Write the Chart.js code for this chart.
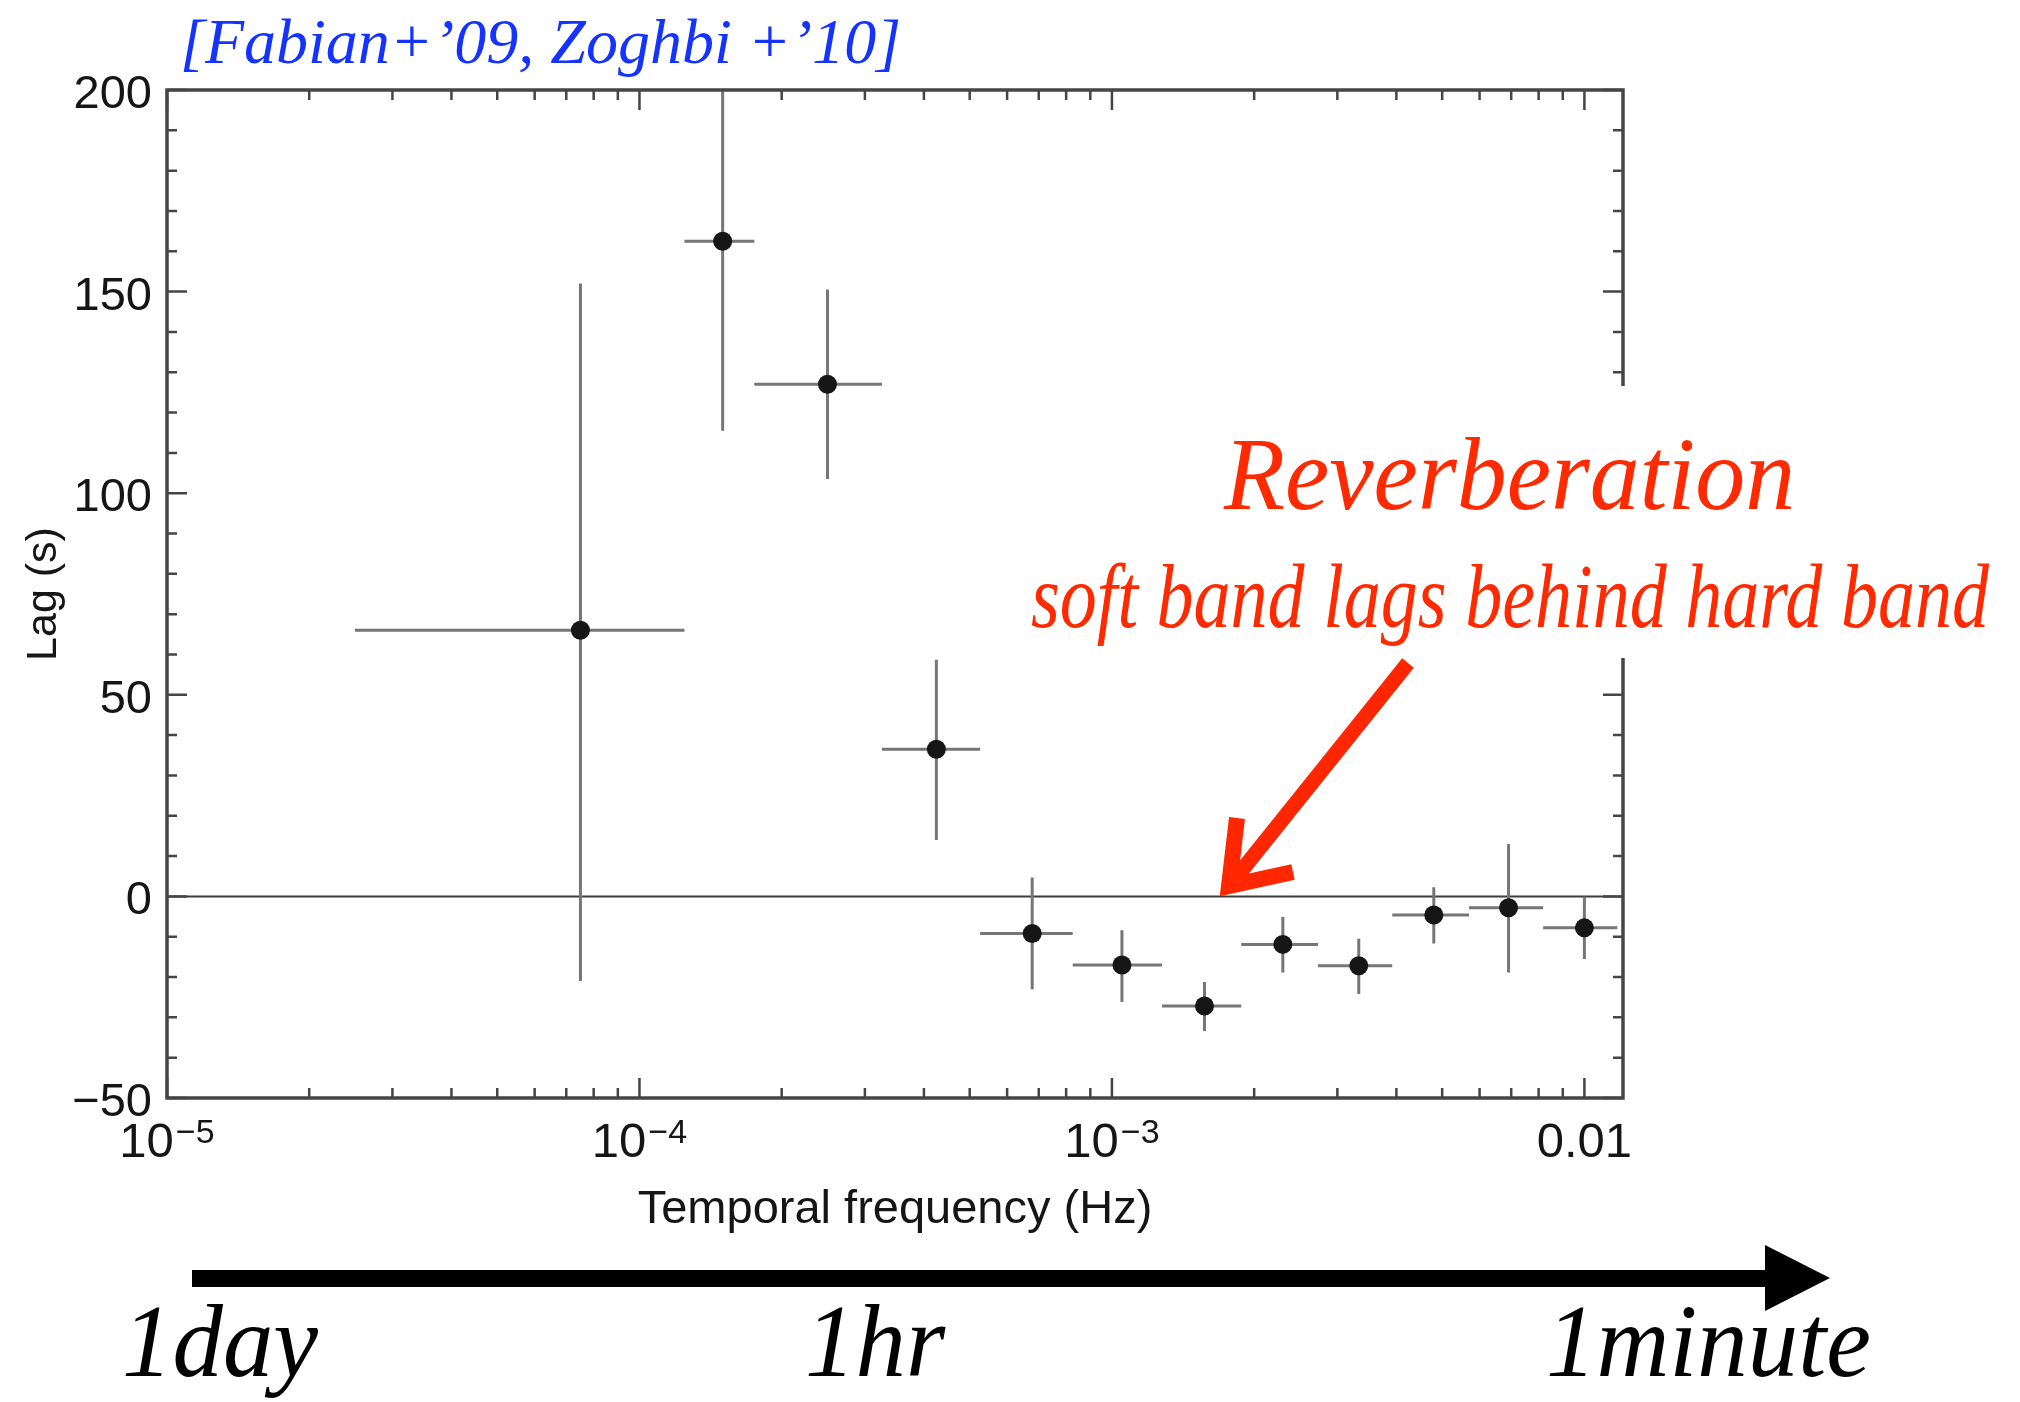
<!DOCTYPE html>
<html>
<head>
<meta charset="utf-8">
<title>Lag vs temporal frequency</title>
<script src="https://cdn.jsdelivr.net/npm/chart.js@4.4.1/dist/chart.umd.min.js"></script>
<style>
  body { margin: 0; background: #fff; }
  #wrap { position: relative; width: 2020px; height: 1402px; overflow: hidden; }
  #lagChart { position: absolute; left: 0; top: 0; }
  .note { position: absolute; font-family: "Liberation Serif", "DejaVu Serif", serif; font-style: italic; white-space: nowrap; line-height: 1; transform-origin: 0 0; }
  #cite { left: 180px; top: 10px; font-size: 64px; color: #1433ff; }
  #mask { position: absolute; left: 1020px; top: 386px; width: 1000px; height: 272px; background: #fff; }
  #reverb { left: 1224px; top: 422px; font-size: 104px; color: #ff2a00; transform: scaleX(0.96); }
  #soft { left: 1031px; top: 550px; font-size: 92px; color: #ff2a00; transform: scaleX(0.805); }
  .time { top: 1289px; font-size: 104px; color: #000; transform: scaleX(0.97); }
</style>
</head>
<body>
<div id="wrap">
  <canvas id="lagChart" width="2020" height="1402"></canvas>
  <div class="note" id="cite">[Fabian+’09, Zoghbi +’10]</div>
  <div id="mask"></div>
  <div class="note" id="reverb">Reverberation</div>
  <div class="note" id="soft">soft band lags behind hard band</div>
  <div class="note time" style="left:122px">1day</div>
  <div class="note time" style="left:805px">1hr</div>
  <div class="note time" style="left:1546px">1minute</div>
</div>
<script>
// data
const freq   = [7.5e-5, 1.50e-4, 2.50e-4, 4.25e-4, 6.78e-4, 1.05e-3, 1.57e-3, 2.30e-3, 3.33e-3, 4.80e-3, 6.91e-3, 1.0e-2];
const freqLo = [2.5e-5, 1.245e-4, 1.75e-4, 3.26e-4, 5.26e-4, 8.26e-4, 1.277e-3, 1.878e-3, 2.73e-3, 3.92e-3, 5.70e-3, 8.18e-3];
const freqHi = [1.245e-4, 1.75e-4, 3.26e-4, 5.26e-4, 8.26e-4, 1.277e-3, 1.878e-3, 2.73e-3, 3.92e-3, 5.70e-3, 8.18e-3, 1.174e-2];
const lag    = [66, 162.5, 127, 36.5, -9.2, -17, -27.2, -11.9, -17.2, -4.6, -2.8, -7.8];
const lagLo  = [-21, 115.5, 103.5, 14, -23, -26.2, -33.4, -18.9, -24.2, -11.7, -18.9, -15.5];
const lagHi  = [152, 210, 150.5, 58.7, 4.7, -8.4, -21.2, -5.1, -10.5, 2.3, 13, -0.1];

const xTicks = [1e-5, 1e-4, 1e-3, 1e-2];
const xTickText = [['10', '\u22125'], ['10', '\u22124'], ['10', '\u22123'], ['0.01', '']];
const yTicks = [-50, 0, 50, 100, 150, 200];
const yTickText = ['\u221250', '0', '50', '100', '150', '200'];

Chart.defaults.font.family = '"Liberation Sans", Arial, sans-serif';
Chart.defaults.color = '#151515';

//error bars + zero line
const errorBars = {
    id: 'errorBars',
    beforeDatasetsDraw(chart) {
        const {ctx, chartArea: a, scales: {x, y}} = chart;
        ctx.save();
        ctx.beginPath();
        ctx.rect(a.left, a.top, a.width, a.height);
        ctx.clip();
        const y0 = y.getPixelForValue(0);
        ctx.strokeStyle = '#3c3c3c';
        ctx.lineWidth = 2;
        ctx.beginPath();
        ctx.moveTo(a.left, y0);
        ctx.lineTo(a.right, y0);
        ctx.stroke();
        ctx.strokeStyle = '#767676';
        ctx.lineWidth = 3;
        freq.forEach((f, i) => {
            const px = x.getPixelForValue(f);
            const py = y.getPixelForValue(lag[i]);
            ctx.beginPath();
            ctx.moveTo(x.getPixelForValue(freqLo[i]), py);
            ctx.lineTo(x.getPixelForValue(freqHi[i]), py);
            ctx.moveTo(px, y.getPixelForValue(lagHi[i]));
            ctx.lineTo(px, y.getPixelForValue(lagLo[i]));
            ctx.stroke();
        });
        ctx.restore();
    }
};

//box with inward ticks on all four sides
const frame = {
    id: 'frame',
    afterDatasetsDraw(chart) {
        const {ctx, chartArea: a, scales: {x, y}} = chart;
        ctx.save();
        ctx.strokeStyle = '#454545';
        ctx.lineWidth = 2.5;
        ctx.beginPath();
        for (let e = -5; e <= -2; e++) {
            for (let k = 1; k < 10; k++) {
                const v = k * Math.pow(10, e);
                if (v > x.max) break;
                const px = x.getPixelForValue(v);
                const len = k === 1 ? 20 : 10;
                ctx.moveTo(px, a.bottom); ctx.lineTo(px, a.bottom - len);
                ctx.moveTo(px, a.top); ctx.lineTo(px, a.top + len);
            }
        }
        for (let v = y.min; v <= y.max; v += 10) {
            const py = y.getPixelForValue(v);
            const len = v % 50 === 0 ? 20 : 10;
            ctx.moveTo(a.left, py); ctx.lineTo(a.left + len, py);
            ctx.moveTo(a.right, py); ctx.lineTo(a.right - len, py);
        }
        ctx.stroke();
        ctx.lineWidth = 3.5;
        ctx.strokeRect(a.left, a.top, a.width, a.height);
        ctx.restore();
    }
};

//x tick labels with superscripts, and the two arrows
const extras = {
    id: 'extras',
    afterDraw(chart) {
        const {ctx, scales: {x}} = chart;
        ctx.save();
        ctx.fillStyle = '#151515';
        ctx.textBaseline = 'alphabetic';
        ctx.textAlign = 'left';
        x.ticks.forEach((t, i) => {
            const px = x.getPixelForValue(t.value);
            const [base, sup] = xTickText[i];
            ctx.font = '49px "Liberation Sans", Arial, sans-serif';
            const wb = ctx.measureText(base).width;
            ctx.font = '34px "Liberation Sans", Arial, sans-serif';
            const ws = sup ? ctx.measureText(sup).width + 2 : 0;
            const sx = px - (wb + ws) / 2;
            ctx.font = '49px "Liberation Sans", Arial, sans-serif';
            ctx.fillText(base, sx, x.top + 59);
            if (sup) {
                ctx.font = '34px "Liberation Sans", Arial, sans-serif';
                ctx.fillText(sup, sx + wb + 2, x.top + 45);
            }
        });

        // red arrow
        ctx.strokeStyle = '#ff2600';
        ctx.lineWidth = 15;
        ctx.lineCap = 'butt';
        ctx.beginPath();
        ctx.moveTo(1408, 663);
        ctx.lineTo(1234, 880);
        ctx.stroke();
        ctx.lineWidth = 16;
        ctx.lineJoin = 'miter';
        ctx.beginPath();
        ctx.moveTo(1237, 818);
        ctx.lineTo(1229, 886);
        ctx.lineTo(1293, 872);
        ctx.stroke();

        // black time arrow
        ctx.fillStyle = '#000';
        ctx.fillRect(192, 1270, 1576, 17);
        ctx.beginPath();
        ctx.moveTo(1765, 1245);
        ctx.lineTo(1830, 1278);
        ctx.lineTo(1765, 1311);
        ctx.closePath();
        ctx.fill();
        ctx.restore();
    }
};

const ctx = document.getElementById('lagChart').getContext('2d');
const lagChart = new Chart(ctx, {
    type: 'scatter',
    data: {
        datasets: [{
            label: 'Lag',
            data: freq.map((f, i) => ({x: f, y: lag[i]})),
            backgroundColor: '#161616',
            borderWidth: 0,
            pointRadius: 9.5,
            pointHoverRadius: 9.5
        }]
    },
    options: {
        responsive: false,
        animation: false,
        layout: {
            padding: {top: 90, right: 397, bottom: 163.4, left: 0}
        },
        scales: {
            x: {
                type: 'logarithmic',
                min: 1e-5,
                max: 0.01207,
                afterBuildTicks: (scale) => {
                    scale.ticks = xTicks.map(v => ({value: v}));
                },
                afterFit: (scale) => { scale.height = 140.6; },
                grid: {display: false, drawTicks: false},
                border: {display: false},
                ticks: {display: false},
                title: {
                    display: true,
                    text: 'Temporal frequency (Hz)',
                    color: '#151515',
                    font: {size: 47},
                    padding: 0
                }
            },
            y: {
                min: -50,
                max: 200,
                afterBuildTicks: (scale) => {
                    scale.ticks = yTicks.map(v => ({value: v}));
                },
                afterFit: (scale) => { scale.width = 167; },
                grid: {display: false, drawTicks: false},
                border: {display: false},
                ticks: {
                    font: {size: 47},
                    padding: 15,
                    labelOffset: 5,
                    callback: (v) => yTickText[yTicks.indexOf(v)]
                },
                title: {
                    display: true,
                    text: 'Lag (s)',
                    color: '#151515',
                    font: {size: 43},
                    padding: {top: 18, bottom: 0}
                }
            }
        },
        plugins: {
            legend: {display: false},
            tooltip: {enabled: false}
        }
    },
    plugins: [errorBars, frame, extras]
});
</script>
</body>
</html>
